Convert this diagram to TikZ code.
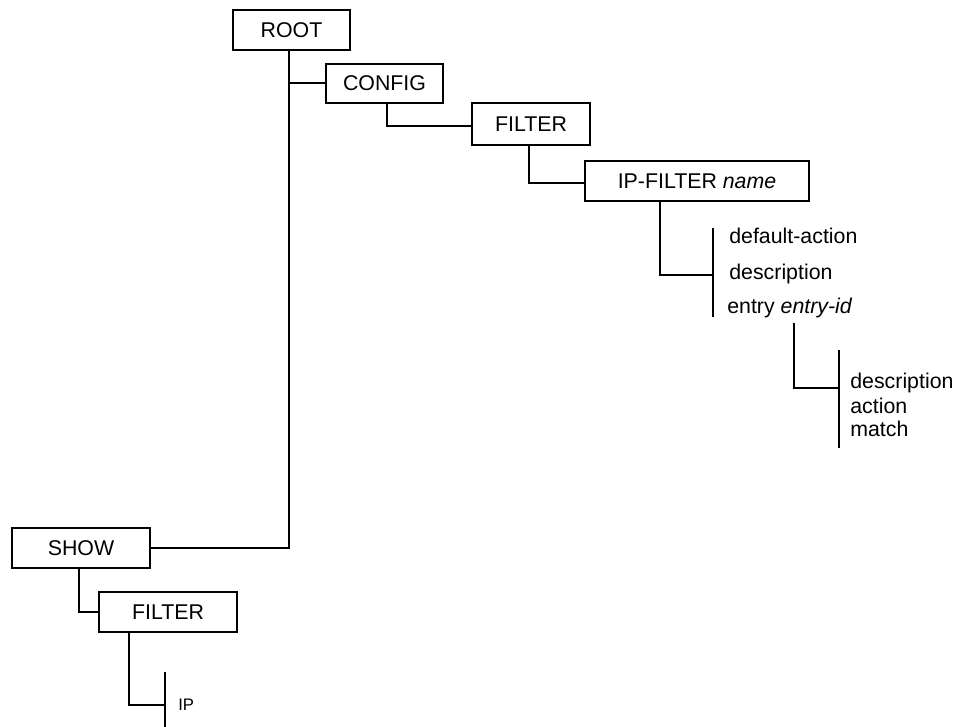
\documentclass[tikz,border=0pt]{standalone}
\usepackage{fontspec}
\setmainfont{Liberation Sans}
\begin{document}
\begin{tikzpicture}[x=0.75pt,y=-0.75pt,line width=1.5pt]
  \tikzstyle{every node}=[font=\fontsize{16}{18}\selectfont]
  \tikzstyle{cmd}=[draw=black,line width=1.5pt,minimum height=30pt,inner sep=0pt]
  \tikzstyle{leaf}=[anchor=west,inner sep=1pt]

  \useasboundingbox (0,0) rectangle (964,727);

  % command boxes
  \node [cmd,minimum width=87.75pt] (root) at (291.5,30.5) {ROOT};
  \node [cmd,minimum width=87.75pt,minimum height=29.25pt] (config) at (384.5,83.5) {CONFIG};
  \node [cmd,minimum width=88.5pt,minimum height=31.5pt] (filter) at (531,124) {FILTER};
  \node [cmd,minimum width=168pt] (ipfilter) at (697,181) {IP-FILTER \textit{name}};
  \node [cmd,minimum width=103.5pt] (show) at (81,548) {SHOW};
  \node [cmd,minimum width=103.5pt] (showfilter) at (168,612) {FILTER};

  % leaves
  \node [leaf] (defact) at (727,236) {default-action};
  \node [leaf] (desc) at (727,274) {description};
  \node [leaf] (entry) at (725,308) {entry \textit{entry-id}};
  \node [leaf] (edesc) at (848,383) {description};
  \node [leaf] (eaction) at (848,406) {action};
  \node [leaf] (ematch) at (848,429) {match};
  \node [leaf,font=\fontsize{12.5}{14}\selectfont] (ip) at (176,705) {IP};

  % bars
  \coordinate (bara) at (713,275);
  \coordinate (barb) at (839,388);
  \coordinate (barc) at (165,705);
  \draw (713,228) -- (713,317);
  \draw (839,350) -- (839,448);
  \draw (165,672) -- (165,727);

  % connectors
  \draw ([xshift=-1.875pt]root.south) |- (show.east);
  \draw ([xshift=-1.875pt]root.south) |- (config.west);
  \draw ([xshift=1.875pt]config.south) |- ([yshift=-1.5pt]filter.west);
  \draw ([xshift=-1.5pt]filter.south) |- ([yshift=-1.5pt]ipfilter.west);
  \draw ([xshift=-27.75pt]ipfilter.south) |- (bara);
  \draw ([xshift=3pt,yshift=-2pt]entry.south) |- (barb);
  \draw ([xshift=-1.5pt]show.south) |- (showfilter.west);
  \draw ([xshift=-29.25pt]showfilter.south) |- (barc);
\end{tikzpicture}
\end{document}
